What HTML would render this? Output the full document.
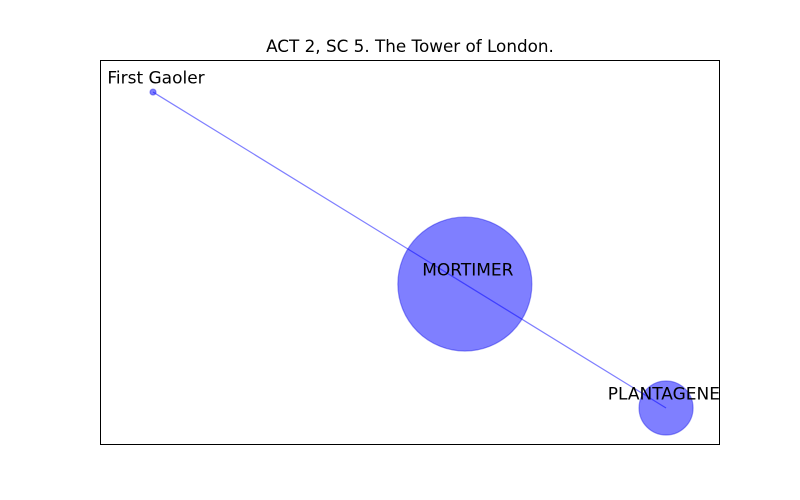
<!DOCTYPE html>
<html><head><meta charset="utf-8"><style>
html,body{margin:0;padding:0;background:#fff;}
svg{display:block;font-family:"DejaVu Sans","Liberation Sans",sans-serif;}
</style></head><body>
<svg id="chart" width="800" height="500" viewBox="0 0 800 500">
<defs><clipPath id="axclip"><rect x="100" y="60" width="620" height="384"/></clipPath></defs>
<rect x="0" y="0" width="800" height="500" fill="#fff"/>
<text x="410" y="52" text-anchor="middle" font-size="16.8" fill="#000">ACT 2, SC 5. The Tower of London.</text>
<g id="plot" clip-path="url(#axclip)"></g>
<rect x="100.5" y="60.5" width="619" height="384" fill="none" stroke="#000" stroke-width="1"/>
</svg>
<script>
const nodeNames = ["First Gaoler", "MORTIMER", "PLANTAGENET"];
const nodeX = [-0.829, 0.177, 0.826];
const nodeY = [0.833, -0.167, -0.8125];
const nodeRadius = [3, 67, 27];
const edgeFrom = [0, 1];
const edgeTo = [1, 2];

const X0 = 100, W = 620, Y0 = 444, H = 384;
function sx(v){ return X0 + (v + 1) / 2 * W; }
function sy(v){ return Y0 - (v + 1) / 2 * H; }
const NS = "http://www.w3.org/2000/svg";
const plot = document.getElementById("plot");

for (let i = 0; i < edgeFrom.length; i++) {
  const a = edgeFrom[i], b = edgeTo[i];
  const l = document.createElementNS(NS, "line");
  l.setAttribute("x1", sx(nodeX[a])); l.setAttribute("y1", sy(nodeY[a]));
  l.setAttribute("x2", sx(nodeX[b])); l.setAttribute("y2", sy(nodeY[b]));
  l.setAttribute("stroke", "rgba(0,0,255,0.5)");
  l.setAttribute("stroke-width", "1.2");
  
  
  plot.appendChild(l);
}
for (let i = 0; i < nodeNames.length; i++) {
  const c = document.createElementNS(NS, "circle");
  c.setAttribute("cx", sx(nodeX[i])); c.setAttribute("cy", sy(nodeY[i]));
  c.setAttribute("r", nodeRadius[i]);
  c.setAttribute("fill", "rgba(0,0,255,0.5)");
  c.setAttribute("stroke", "rgba(30,30,230,0.45)");
  c.setAttribute("stroke-width", "1.2");
  
  
  plot.appendChild(c);
}
for (let i = 0; i < nodeNames.length; i++) {
  const t = document.createElementNS(NS, "text");
  t.setAttribute("x", sx(nodeX[i]) + 3); t.setAttribute("y", sy(nodeY[i]) - 8.5);
  t.setAttribute("text-anchor", "middle");
  t.setAttribute("font-size", "17");
  t.setAttribute("fill", "#000");
  t.textContent = nodeNames[i];
  
  
  plot.appendChild(t);
}
</script>
</body></html>
